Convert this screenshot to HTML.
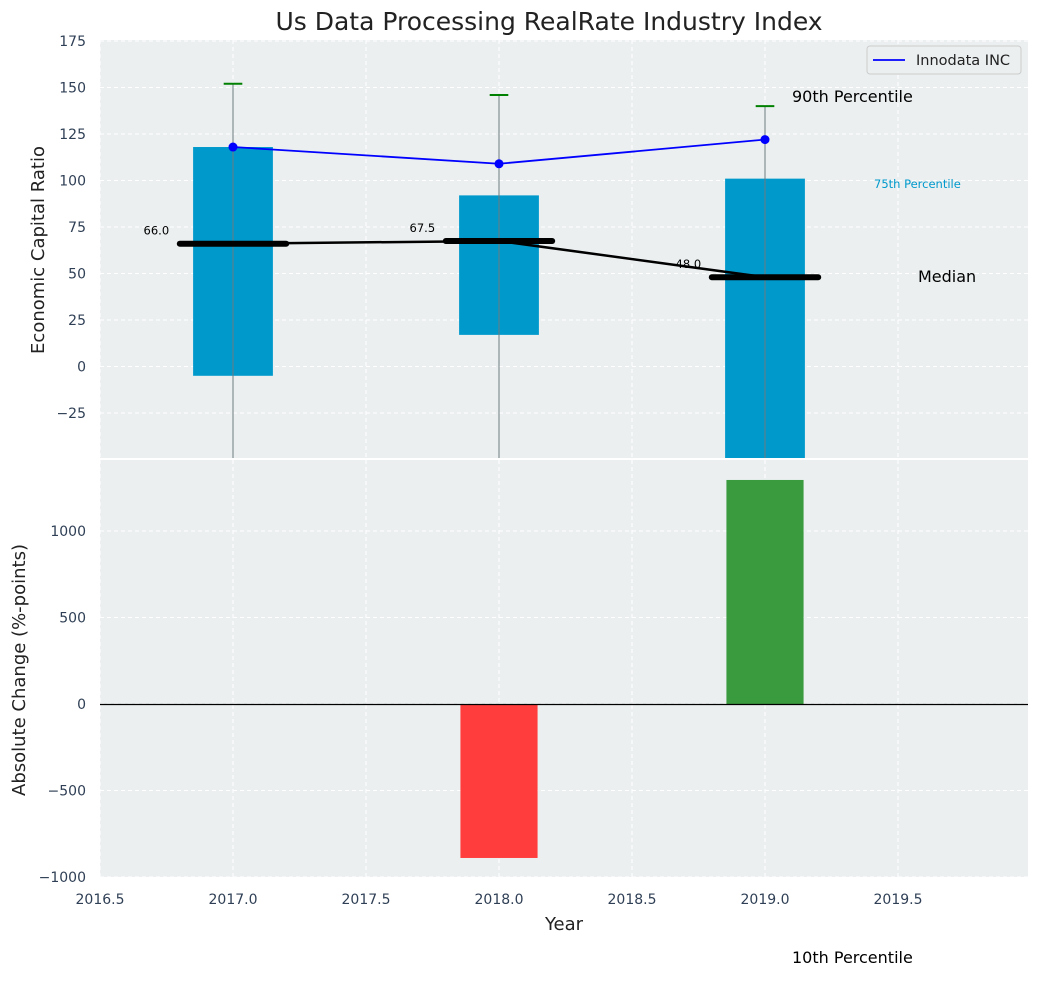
<!DOCTYPE html>
<html><head><meta charset="utf-8"><style>
body{margin:0;background:#fff;font-family:"Liberation Sans","DejaVu Sans",sans-serif}
svg text{font-family:"DejaVu Sans","Liberation Sans",sans-serif}
</style></head><body>
<svg id="c" width="1039" height="976" xmlns="http://www.w3.org/2000/svg"></svg>
<script>
const years=[2017,2018,2019];
const q25=[-5,17,-60];
const q75=[118,92,101];
const p90=[152,146,140];
const medians=[66,67.5,48];
const company=[118,109,122];
const changes=[0,-890,1295];
const xTicks=[2016.5,2017.0,2017.5,2018.0,2018.5,2019.0,2019.5];
const yTopTicks=[-25,0,25,50,75,100,125,150,175];
const yBotTicks=[-1000,-500,0,500,1000];

const NS="http://www.w3.org/2000/svg";
const svg=document.getElementById('c');
function el(t,a,p){const e=document.createElementNS(NS,t);for(const k in a)e.setAttribute(k,a[k]);(p||svg).appendChild(e);return e;}
const L=100,R=1028;
const X=v=>L+(v-2016.5)*266;
const T0=40,T1=458,B0=460,B1=877;
const Yt=v=>366.5-v*1.86;
const Yb=v=>704-v*0.173;

let e=el('rect',{x:L,y:T0,width:R-L,height:T1-T0,fill:'#ebeff0'});

e=el('rect',{x:L,y:B0,width:R-L,height:B1-B0,fill:'#ebeff0'});


const defs=el('defs',{});
const cp=el('clipPath',{id:'ct'},defs);el('rect',{x:L,y:T0,width:R-L,height:T1-T0},cp);
const cb=el('clipPath',{id:'cb'},defs);el('rect',{x:L,y:B0,width:R-L,height:B1-B0},cb);
const gt=el('g',{'clip-path':'url(#ct)'});const gb=el('g',{'clip-path':'url(#cb)'});

xTicks.forEach(t=>{
 el('line',{x1:X(t),x2:X(t),y1:T0,y2:T1,stroke:'#fff','stroke-dasharray':'4,3','stroke-width':1},gt);
 el('line',{x1:X(t),x2:X(t),y1:B0,y2:B1,stroke:'#fff','stroke-dasharray':'4,3','stroke-width':1},gb);
 e=el('text',{x:X(t),y:904,'text-anchor':'middle','font-size':14,fill:'#2f3f55'});e.textContent=t.toFixed(1);
 
});
yTopTicks.forEach(t=>{
 el('line',{x1:L,x2:R,y1:Yt(t),y2:Yt(t),stroke:'#fff','stroke-dasharray':'4,3'},gt);
 e=el('text',{x:L-14,y:Yt(t)+5,'text-anchor':'end','font-size':14,fill:'#2f3f55'});e.textContent=t<0?'\u2212'+(-t):t;
 
});
yBotTicks.forEach(t=>{
 el('line',{x1:L,x2:R,y1:Yb(t),y2:Yb(t),stroke:'#fff','stroke-dasharray':'4,3'},gb);
 e=el('text',{x:L-14,y:Yb(t)+5,'text-anchor':'end','font-size':14,fill:'#2f3f55'});e.textContent=t<0?'\u2212'+(-t):t;
 
});

years.forEach((y,i)=>{
 e=el('rect',{x:X(y-0.15),y:Yt(q75[i]),width:X(y+0.15)-X(y-0.15),height:Yt(q25[i])-Yt(q75[i]),fill:'#0099cc'},gt);
 
 e=el('line',{x1:X(y),x2:X(y),y1:Yt(p90[i]),y2:Yt(-60),stroke:'#6e7b7f','stroke-width':1},gt);
 
 e=el('line',{x1:X(y-0.035),x2:X(y+0.035),y1:Yt(p90[i]),y2:Yt(p90[i]),stroke:'green','stroke-width':2},gt);
 
});
e=el('polyline',{points:years.map((y,i)=>X(y)+','+Yt(medians[i])).join(' '),fill:'none',stroke:'#000','stroke-width':2.5},gt);

years.forEach((y,i)=>{
 e=el('line',{x1:X(y-0.2),x2:X(y+0.2),y1:Yt(medians[i]),y2:Yt(medians[i]),stroke:'#000','stroke-width':6,'stroke-linecap':'round'},gt);
 
 e=el('text',{x:X(y-0.24),y:Yt(medians[i])-9,'text-anchor':'end','font-size':11.5,fill:'#000'});e.textContent=medians[i].toFixed(1);
 
});
e=el('polyline',{points:years.map((y,i)=>X(y)+','+Yt(company[i])).join(' '),fill:'none',stroke:'blue','stroke-width':1.8},gt);

years.forEach((y,i)=>{e=el('circle',{cx:X(y),cy:Yt(company[i]),r:4.5,fill:'blue'},gt);
 });

years.forEach((y,i)=>{if(!changes[i])return;
 const v=changes[i];
 e=el('rect',{x:X(y-0.145),y:Math.min(Yb(0),Yb(v)),width:X(y+0.145)-X(y-0.145),height:Math.abs(Yb(v)-Yb(0)),fill:v<0?'#ff3d3d':'#3a9a3e'},gb);
 
});
e=el('line',{x1:L,x2:R,y1:Math.round(Yb(0))+0.5,y2:Math.round(Yb(0))+0.5,stroke:'#000','stroke-width':1.2},gb);


function txt(x,y,s,size,fill,name,anchor,rot){e=el('text',{x:x,y:y,'font-size':size,fill:fill,'text-anchor':anchor||'start'});if(rot)e.setAttribute('transform','rotate(-90 '+x+' '+y+')');e.textContent=s;}
txt(549,30,'Us Data Processing RealRate Industry Index',25,'#222','chart-title','middle');
txt(564,930,'Year',18,'#222','x-axis-title','middle');
txt(44,250,'Economic Capital Ratio',18,'#222','y-top-axis-title','middle',true);
txt(25,670,'Absolute Change (%-points)',18,'#222','y-bottom-axis-title','middle',true);
txt(792,102,'90th Percentile',16,'#000','annotation-90th');
txt(874,188,'75th Percentile',11.5,'#0099cc','annotation-75th');
txt(918,282,'Median',16,'#000','annotation-median');
txt(792,963,'10th Percentile',16,'#000','annotation-10th');

const lg=el('g',{});
el('rect',{x:867,y:46,width:154,height:28,rx:3,fill:'#ebeff0',stroke:'#ccc'},lg);
el('line',{x1:873,x2:905,y1:60,y2:60,stroke:'blue','stroke-width':1.8},lg);
e=el('text',{x:916,y:65,'font-size':14.5,fill:'#222'},lg);e.textContent='Innodata INC';

</script>
</body></html>
